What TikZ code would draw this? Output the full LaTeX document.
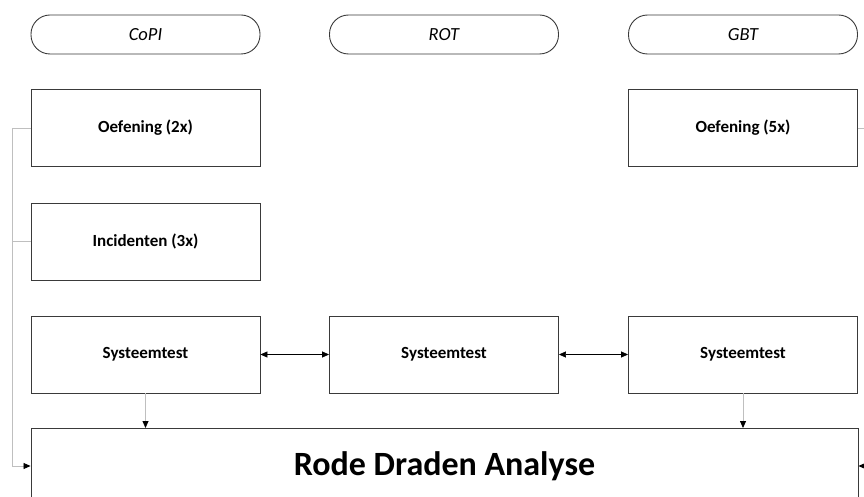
\documentclass[tikz,border=0pt]{standalone}
\usepackage{fontspec}
\setmainfont{Carlito}
\usetikzlibrary{arrows.meta}
\definecolor{boxline}{HTML}{3A3A3A}
\definecolor{feed}{HTML}{BFBFBF}
\begin{document}
\begin{tikzpicture}[x=1pt,y=-1pt,
  lane/.style={draw=boxline,line width=0.9pt,rounded corners=19pt,minimum width=229pt,minimum height=39pt,inner sep=0pt,font=\fontsize{18.5}{21}\selectfont\itshape},
  task/.style={draw=boxline,line width=0.9pt,minimum width=229pt,minimum height=77pt,inner sep=0pt,font=\fontsize{17}{20}\selectfont\bfseries},
  tip/.style={-{Triangle[length=7pt,width=6pt,color=black]}},
  both/.style={{Triangle[length=7pt,width=6pt]}-{Triangle[length=7pt,width=6pt]},draw=black,line width=0.7pt},
  fb/.style={draw=feed,line width=0.8pt}]
\useasboundingbox (0,0) rectangle (864,497);
\begin{scope}
\clip (0,0) rectangle (864,497);

% swimlane headers
\node[lane] (copi) at (145.5,34.5) {CoPI};
\node[lane] (rot)  at (444,34.5)   {ROT};
\node[lane] (gbt)  at (743,34.5)   {GBT};

% activities
\node[task] (oef2) at (145.5,128) {Oefening (2x)};
\node[task] (inc)  at (145.5,241.5) {Incidenten (3x)};
\node[task] (sys1) at (145.5,354.5) {Systeemtest};
\node[task] (sys2) at (444,354.5)   {Systeemtest};
\node[task] (sys3) at (743,354.5)   {Systeemtest};
\node[task] (oef5) at (743,128)     {Oefening (5x)};

% analysis box, running past the lower edge
\node[draw=boxline,line width=0.9pt,minimum width=827pt,minimum height=100pt,inner sep=0pt,anchor=north] (rda) at (444.5,428) {};
\node (rdatext) at (444.5,466) {\fontsize{34}{40}\selectfont\bfseries Rode Draden Analyse};

% links between the tests
\draw[both] (sys1.east) -- (sys2.west);
\draw[both] (sys2.east) -- (sys3.west);

% tests feeding the analysis
\draw[fb,tip] (sys1.south) -- (sys1.south |- rda.north);
\draw[fb,tip] (sys3.south) -- (sys3.south |- rda.north);

% left feedback path
\coordinate (lt) at (12,128);
\coordinate (lb) at (12,466);
\coordinate (li) at (12,241.5);
\draw[fb] (oef2.west) -- (lt);
\draw[fb] (inc.west) -- (li);
\draw[fb,tip] (lt) -- (lb) -- (lb -| rda.west);

% right feedback path
\coordinate (rt) at (880,128);
\coordinate (rb) at (880,466);
\draw[fb,tip] (oef5.east) -- (rt) -- (rb) -- (rb -| rda.east);
\end{scope}
\end{tikzpicture}
\end{document}
